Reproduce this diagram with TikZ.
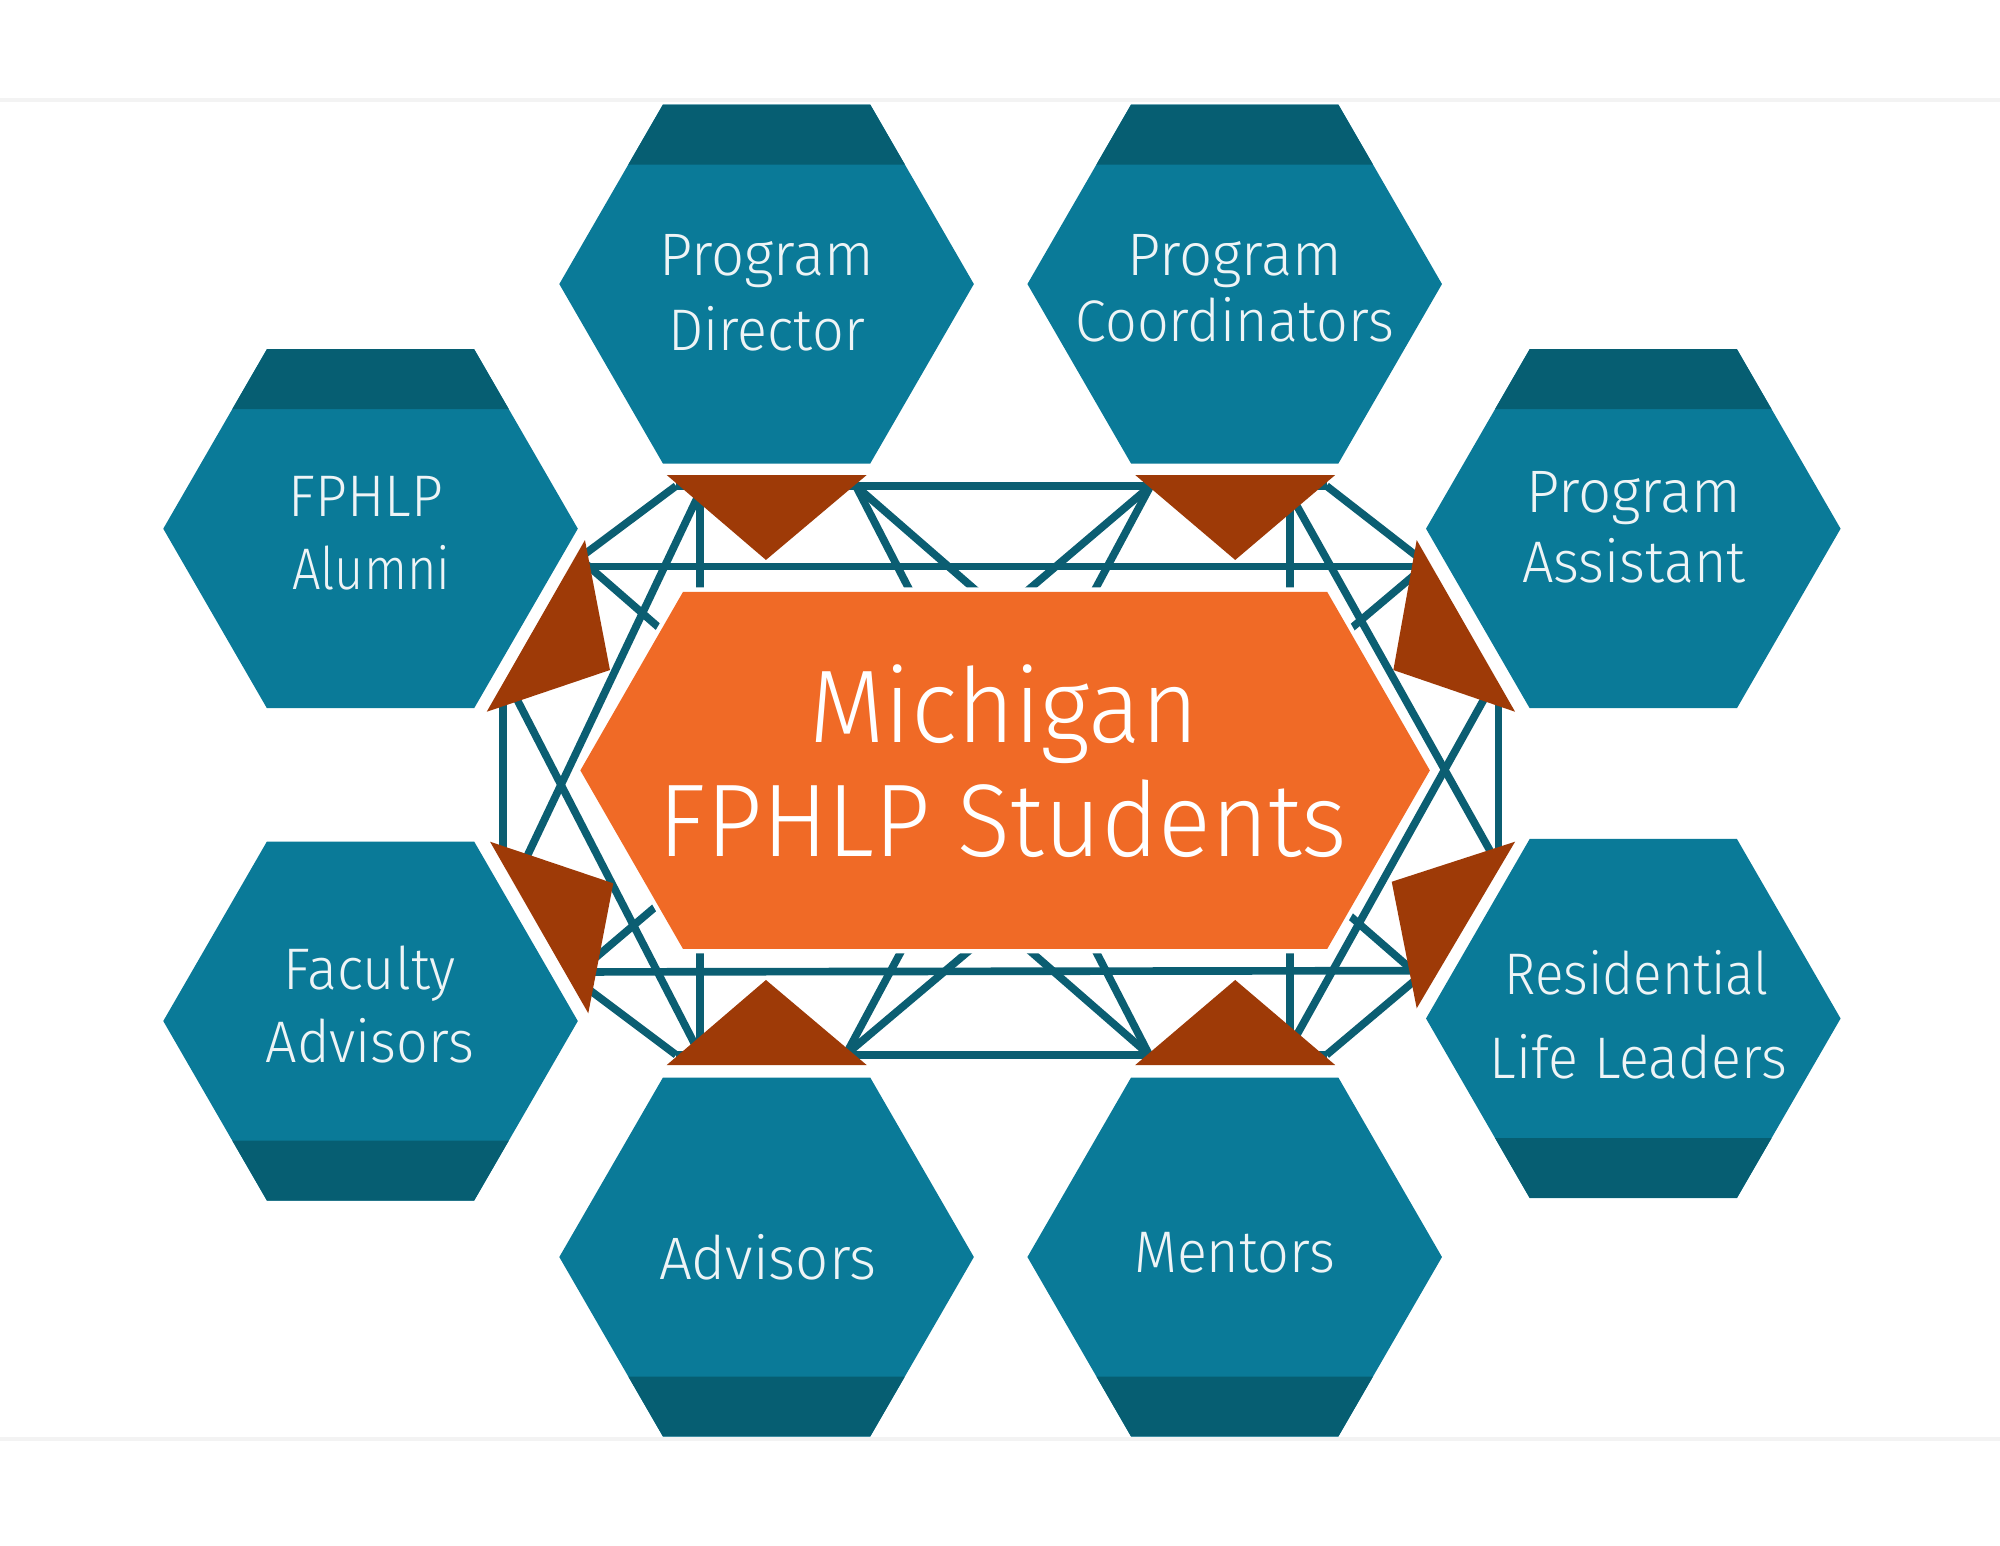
\documentclass[tikz,border=0pt]{standalone}
\usepackage{fontspec}
\setmainfont{Fira Sans}
\IfFontExistsTF{Fira Sans Light}
  {\newfontfamily\lblfont{Fira Sans Light}[FakeStretch=0.95]
   \newfontfamily\lblwide{Fira Sans Light}[FakeStretch=0.97]
   \newfontfamily\lblnarrow{Fira Sans Light}[FakeStretch=0.86]
   \newfontfamily\lblslim{Fira Sans Light}[FakeStretch=0.905]
   \newfontfamily\corefont{Fira Sans Light}[FakeStretch=0.95]}
  {\newfontfamily\lblfont{Fira Sans}[FakeStretch=0.93]
   \newfontfamily\lblwide{Fira Sans}[FakeStretch=0.95]
   \newfontfamily\lblnarrow{Fira Sans}[FakeStretch=0.84]
   \newfontfamily\lblslim{Fira Sans}[FakeStretch=0.88]
   \newfontfamily\corefont{Fira Sans}[FakeStretch=0.93]}
\usetikzlibrary{shapes.geometric}
\definecolor{hexfill}{HTML}{0A7A98}
\definecolor{hexband}{HTML}{065E72}
\definecolor{netline}{HTML}{0B5E72}
\definecolor{core}{HTML}{F06A26}
\definecolor{tri}{HTML}{9E3A07}
\definecolor{rulegray}{HTML}{F3F3F3}
\definecolor{lbltext}{HTML}{EEF4F6}
\newcommand\bandtop[1]{\fill[hexband] ([shift={(-81.25,-140.7)}]#1.center) -- ([shift={(81.25,-140.7)}]#1.center) -- ([shift={(108.4,-93.7)}]#1.center) -- ([shift={(-108.4,-93.7)}]#1.center) -- cycle;}
\newcommand\bandbot[1]{\fill[hexband] ([shift={(-81.25,140.7)}]#1.center) -- ([shift={(81.25,140.7)}]#1.center) -- ([shift={(108.4,93.7)}]#1.center) -- ([shift={(-108.4,93.7)}]#1.center) -- cycle;}
\begin{document}
\begin{tikzpicture}[x=1pt,y=-1pt,
  hexnode/.style={regular polygon, regular polygon sides=6, minimum size=325pt, inner sep=0pt, outer sep=0pt, fill=hexfill, draw=none},
  lbl/.style={anchor=base, text=lbltext, inner sep=0pt, font=\lblfont\fontsize{46}{50}\selectfont},
  lblw/.style={anchor=base, text=lbltext, inner sep=0pt, font=\lblwide\fontsize{47}{50}\selectfont},
  lbln/.style={anchor=base, text=lbltext, inner sep=0pt, font=\lblnarrow\fontsize{46}{50}\selectfont},
  lbls/.style={anchor=base, text=lbltext, inner sep=0pt, font=\lblslim\fontsize{46}{50}\selectfont},
  corelbl/.style={anchor=base, text=white, inner sep=0pt, font=\corefont\fontsize{81}{90}\selectfont},
  net/.style={draw=netline, line width=6pt},
  trishape/.style={fill=tri}]
\useasboundingbox (0,0) rectangle (1568,1211.3);
\fill[white] (0,0) rectangle (1568,1211.3);
\draw[rulegray, line width=3pt] (0,78.5) -- (1568,78.5);
\draw[rulegray, line width=3pt] (0,1128) -- (1568,1128);

% network vertices
\coordinate (a1) at (530,381);   \coordinate (a2) at (671,381);
\coordinate (a3) at (902,381);   \coordinate (a4) at (1040,381);
\coordinate (b1) at (530,827);   \coordinate (b2) at (663,827);
\coordinate (b3) at (901,827);   \coordinate (b4) at (1040,827);
\coordinate (v1t) at (549,381);  \coordinate (v1b) at (549,827);
\coordinate (v2t) at (1011.5,381); \coordinate (v2b) at (1011.5,827);
\coordinate (alt) at (551,381);  \coordinate (alb) at (411,676);
\coordinate (bet) at (401,540);
\coordinate (gat) at (1008,381); \coordinate (gab) at (1171,672);
\coordinate (det) at (1168,540); \coordinate (deb) at (1008,827);
\coordinate (l1a) at (455,437);  \coordinate (l1b) at (458,441);
\coordinate (l1h) at (461,444);  \coordinate (r1h) at (1110,444);
\coordinate (l4h) at (462,762);  \coordinate (r4h) at (1110,761);
\coordinate (l4a) at (458,773);  \coordinate (l4b) at (462,755);
\coordinate (r1a) at (1112,437); \coordinate (r1b) at (1111,449);
\coordinate (r4a) at (1110,763); \coordinate (r4b) at (1110,768);
\coordinate (lo1) at (394.5,550); \coordinate (lo2) at (394.5,668);
\coordinate (ro1) at (1174.7,550); \coordinate (ro2) at (1174.7,668);

% network lines
\draw[net] (a1) -- (a4);
\draw[net] (l1h) -- (r1h);
\draw[net] (l4h) -- (r4h);
\draw[net] (b1) -- (b4);
\draw[net] (v1t) -- (v1b);
\draw[net] (v2t) -- (v2b);
\draw[net] (lo1) -- (lo2);
\draw[net] (ro1) -- (ro2);
\draw[net] (a1) -- (l1a);
\draw[net] (a4) -- (r1a);
\draw[net] (b1) -- (l4a);
\draw[net] (b4) -- (r4b);
\draw[net] (alt) -- (alb);
\draw[net] (v1b) -- (bet);
\draw[net] (gat) -- (gab);
\draw[net] (deb) -- (det);
\draw[net] (l1b) -- (b3);
\draw[net] (l4b) -- (a3);
\draw[net] (r1b) -- (b2);
\draw[net] (r4a) -- (a2);
\draw[net] (a2) -- (b3);
\draw[net] (a3) -- (b2);

% central hexagon
\path[draw=white, line width=7pt, line join=miter]
  (535.5,464) -- (1040.5,464) -- (1121,604) -- (1040.5,744) -- (535.5,744) -- (455,604) -- cycle;
\fill[core] (535.5,464) -- (1040.5,464) -- (1121,604) -- (1040.5,744) -- (535.5,744) -- (455,604) -- cycle;
\node[corelbl] (core1) at (787,582.3) {Michigan};
\node[corelbl] (core2) at (786.5,671.6) {FPHLP Students};

% triangles
\fill[trishape] (522.7,372.4) -- (679.5,372.4) -- (600.5,439) -- cycle;
\fill[trishape] (890,372.4) -- (1046.8,372.4) -- (968.4,439) -- cycle;
\fill[trishape] (522.7,835) -- (679.5,835) -- (600.5,768.3) -- cycle;
\fill[trishape] (890,835) -- (1046.8,835) -- (968.4,768.3) -- cycle;
\fill[trishape] (458.6,423.4) -- (381.6,558) -- (478.2,525.3) -- cycle;
\fill[trishape] (384.2,659.9) -- (480.8,692.5) -- (461.2,794.4) -- cycle;
\fill[trishape] (1110.7,423.4) -- (1187.8,558) -- (1092.4,525.3) -- cycle;
\fill[trishape] (1187.8,659.9) -- (1091.1,691.3) -- (1110.7,790.5) -- cycle;

% hexagons
\node[hexnode] (pd) at (601,222.7) {};
\node[hexnode] (pc) at (968,222.7) {};
\node[hexnode] (al) at (290.5,414.5) {};
\node[hexnode] (pa) at (1280.5,414.5) {};
\node[hexnode] (fa) at (290.5,800.5) {};
\node[hexnode] (rl) at (1280.5,798.5) {};
\node[hexnode] (ad) at (601,985.5) {};
\node[hexnode] (me) at (968,985.5) {};
\bandtop{pd}\bandtop{pc}\bandtop{al}\bandtop{pa}
\bandbot{fa}\bandbot{rl}\bandbot{ad}\bandbot{me}

% labels
\node[lblw] (pd1) at (601,216) {Program};
\node[lbl] (pd2) at (601,275) {Director};
\node[lblw] (pc1) at (968,216) {Program};
\node[lbl] (pc2) at (968,268) {Coordinators};
\node[lbl] (al1) at (287,405) {FPHLP};
\node[lbln] (al2) at (291,462) {Alumni};
\node[lblw] (pa1) at (1281,402) {Program};
\node[lbl] (pa2) at (1281,457) {Assistant};
\node[lbl] (fa1) at (290,776) {Faculty};
\node[lbl] (fa2) at (290,833) {Advisors};
\node[lbls] (rl1) at (1283,780) {Residential};
\node[lbl] (rl2) at (1284.5,845.4) {Life Leaders};
\node[lblw] (ad1) at (602,1003) {Advisors};
\node[lbl] (me1) at (968,998) {Mentors};
\end{tikzpicture}
\end{document}
